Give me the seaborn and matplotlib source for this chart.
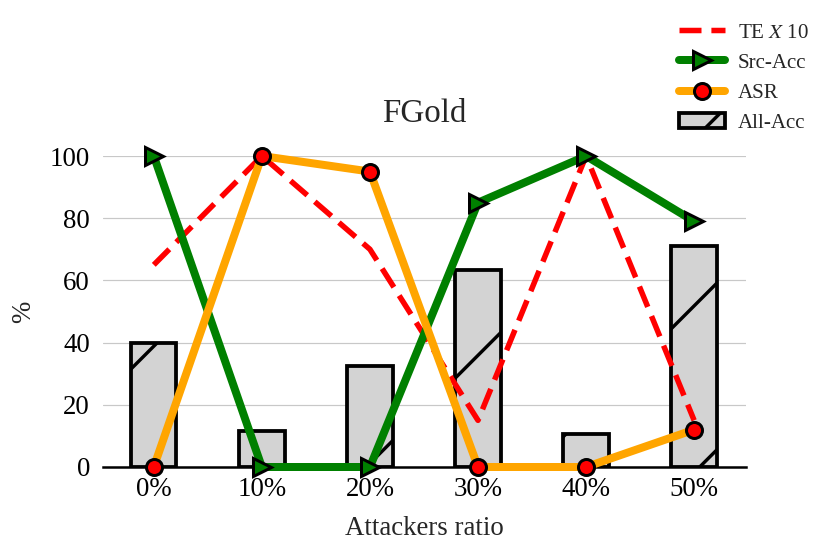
import numpy as np
import pandas as pd
import matplotlib
matplotlib.use('Agg')
import matplotlib.pyplot as plt
import seaborn as sns

# ---- data ----
ratios = ['0%', '10%', '20%', '30%', '40%', '50%']
all_acc = [40, 11.5, 32.5, 63.5, 10.5, 71]
src_acc = [100, 0, 0, 85, 100, 79]
asr = [0, 100, 95, 0, 0, 12]
te_x10 = [65, 100, 70, 15, 100, 15]
yticks = [0, 20, 40, 60, 80, 100]

DPI = 500
P = 72 / DPI  # points per pixel

sns.set_style('white')
plt.rcParams['font.family'] = ['Liberation Serif', 'DejaVu Serif']
plt.rcParams['mathtext.fontset'] = 'stix'
plt.rcParams['hatch.linewidth'] = 3.4 * P
plt.rcParams['hatch.color'] = 'black'

fig = plt.figure(figsize=(830 / DPI, 555 / DPI), dpi=DPI)
ax = fig.add_axes([103 / 830, 88 / 555, 643 / 830, 311 / 555])

df = pd.DataFrame({'pos': np.arange(len(ratios)), 'ratio': ratios,
                   'all': all_acc, 'src': src_acc, 'asr': asr, 'te': te_x10})

sns.barplot(data=df, x='pos', y='all', ax=ax, native_scale=True, width=0.42,
            color='lightgray', saturation=1, edgecolor='black',
            linewidth=3.8 * P, hatch='/', zorder=2)

sns.lineplot(data=df, x='pos', y='te', ax=ax, color='red',
             legend=False, clip_on=False, zorder=3)
te_line = ax.lines[-1]
te_line.set_linewidth(5.5 * P)
te_line.set_linestyle((0, (4.0, 1.8)))

sns.lineplot(data=df, x='pos', y='src', ax=ax, color='green',
             marker='>', markersize=19 * P, markerfacecolor='green',
             markeredgecolor='black', markeredgewidth=3 * P,
             legend=False, clip_on=False, zorder=4)
src_line = ax.lines[-1]
src_line.set_linewidth(8 * P)

sns.lineplot(data=df, x='pos', y='asr', ax=ax, color='orange',
             marker='o', markersize=16 * P, markerfacecolor='red',
             markeredgecolor='black', markeredgewidth=3 * P,
             legend=False, clip_on=False, zorder=5)
asr_line = ax.lines[-1]
asr_line.set_linewidth(8 * P)

ax.set_ylim(0, 100)
ax.set_yticks(yticks)
ax.set_xticks(df['pos'], ratios)
ax.set_xlim(-0.47, 5.48)

ax.yaxis.grid(True, color='#c8c8c8', linewidth=1.2 * P, zorder=0)
ax.xaxis.grid(False)
ax.set_axisbelow(True)
for s in ['left', 'top', 'right']:
    ax.spines[s].set_visible(False)
ax.spines['bottom'].set_color('black')
ax.spines['bottom'].set_linewidth(2.5 * P)
ax.spines['bottom'].set_zorder(1)

ax.tick_params(axis='both', length=0, labelsize=27 * P, colors='black')
ax.tick_params(axis='y', pad=13 * P)
ax.tick_params(axis='x', pad=10 * P)

ax.set_title('FGold', fontsize=33 * P, pad=34 * P)
ax.set_xlabel('Attackers ratio', fontsize=27 * P, labelpad=14 * P)
ax.set_ylabel('%', fontsize=27 * P, labelpad=14 * P)

bar_patch = ax.patches[0]
handles = [te_line, src_line, asr_line, bar_patch]
labels = ['TE $X$ 10', 'Src-Acc', 'ASR', 'All-Acc']
fig.legend(handles, labels, loc='upper right',
           bbox_to_anchor=(1.0 - 4 / 830, 1.0 - 6 / 555),
           frameon=False, fontsize=21 * P, handlelength=2.2,
           labelspacing=0.5, handletextpad=0.6, borderaxespad=0.4)

fig.savefig('out.png', dpi=DPI)
